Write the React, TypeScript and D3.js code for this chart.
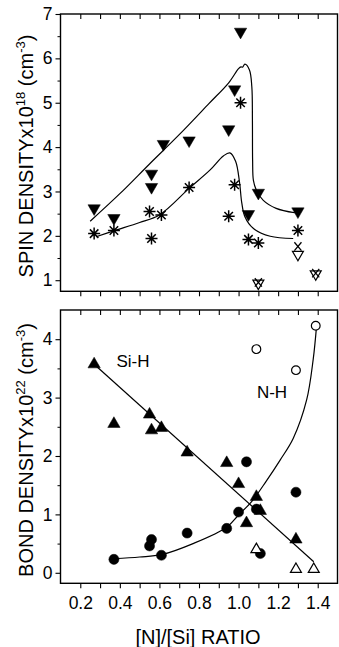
import React, { useEffect, useRef } from 'react';
import * as d3 from 'd3';

// x axis: [N]/[Si] ratio
const xTickValues = [0.2, 0.4, 0.6, 0.8, 1.0, 1.2, 1.4];
const xMinorValues = [0.2, 0.3, 0.4, 0.5, 0.6, 0.7, 0.8, 0.9, 1.0, 1.1, 1.2, 1.3, 1.4];
const spinTickValues = [1, 2, 3, 4, 5, 6, 7];
const spinMinorValues = [1.5, 2.5, 3.5, 4.5, 5.5, 6.5];
const bondTickValues = [0, 1, 2, 3, 4];
const bondMinorValues = [0.5, 1.5, 2.5, 3.5];

// top panel: spin density x10^18
const spinFilledDown = [
  [0.27, 2.62], [0.37, 2.4], [0.56, 3.4], [0.56, 3.1], [0.62, 4.07], [0.75, 4.15],
  [0.95, 4.4], [0.98, 5.3], [1.01, 6.6], [1.05, 2.49], [1.1, 2.97], [1.3, 2.55],
];
const spinStars = [
  [0.27, 2.05], [0.37, 2.12], [0.55, 2.55], [0.56, 1.94], [0.61, 2.47], [0.75, 3.09],
  [0.95, 2.44], [0.98, 3.15], [1.01, 5.0], [1.05, 1.92], [1.1, 1.84], [1.3, 2.12],
];
const spinOpenDown = [[1.1, 0.93], [1.39, 1.14], [1.3, 1.58]];
const spinCrosses = [[1.1, 0.95], [1.39, 1.16], [1.3, 1.76]];
const spinUpperCurve = [
  [0.25, 2.33], [0.4, 2.95], [0.55, 3.62], [0.7, 4.28], [0.85, 4.98], [0.95, 5.45],
  [1.0, 5.77], [1.012, 5.81], [1.02, 5.8], [1.032, 5.87], [1.055, 5.74], [1.067, 5.36],
  [1.07, 4.6], [1.071, 3.7], [1.075, 3.25], [1.09, 3.03], [1.125, 2.8], [1.19, 2.62], [1.285, 2.52],
];
const spinLowerCurve = [
  [0.28, 1.98], [0.375, 2.12], [0.5, 2.3], [0.6, 2.47], [0.75, 3.07], [0.855, 3.48],
  [0.923, 3.8], [0.956, 3.87], [0.985, 3.68], [1.005, 3.2], [1.016, 2.75], [1.032, 2.43],
  [1.074, 2.17], [1.16, 1.99], [1.276, 1.94],
];

// bottom panel: bond density x10^22
const siHFilled = [
  [0.27, 3.57], [0.37, 2.55], [0.55, 2.71], [0.56, 2.44], [0.61, 2.48], [0.74, 2.06],
  [0.94, 1.88], [1.0, 1.52], [1.04, 0.85], [1.09, 1.3], [1.11, 1.06], [1.29, 0.57],
];
const siHOpen = [[1.09, 0.4], [1.29, 0.06], [1.38, 0.06]];
const nHFilled = [
  [0.37, 0.23], [0.55, 0.46], [0.56, 0.57], [0.61, 0.3], [0.74, 0.68], [0.94, 0.76],
  [1.0, 1.04], [1.04, 1.9], [1.09, 1.09], [1.11, 0.33], [1.29, 1.38],
];
const nHOpen = [[1.09, 3.83], [1.29, 3.47], [1.39, 4.23]];
const siHLine = [[0.27, 3.57], [1.38, 0.19]];
const nHCurve = [
  [0.37, 0.24], [0.5, 0.27], [0.61, 0.31], [0.77, 0.5], [0.94, 0.78], [1.0, 0.99],
  [1.066, 1.22], [1.14, 1.57], [1.21, 1.93], [1.276, 2.3], [1.344, 2.96], [1.377, 3.65], [1.394, 4.22],
];

const font = 'Liberation Sans, Arial, sans-serif';

const App = () => {
  const svgRef = useRef(null);

  useEffect(() => {
    const width = 339;
    const height = 647;
    const svg = d3.select(svgRef.current).attr('width', width).attr('height', height);
    svg.selectAll('*').remove();

    const x = d3.scaleLinear().domain([0.1, 1.5]).range([60.5, 337.5]);
    const yTop = d3.scaleLinear().domain([0.75, 7]).range([291.3, 14]);
    const yBot = d3.scaleLinear().domain([-0.18, 4.5]).range([583.3, 310]);

    const drawFrame = (y, major, minor, xLabels) => {
      const [y0, y1] = y.range();
      const g = svg.append('g');
      g.append('rect')
        .attr('x', x.range()[0]).attr('y', y1)
        .attr('width', x.range()[1] - x.range()[0]).attr('height', y0 - y1)
        .attr('fill', 'none').attr('stroke', '#000').attr('stroke-width', 1.4);

      // x ticks all point down: inward on top edge, outward on bottom edge
      [y1, y0].forEach(pos => {
        const ax = g.append('g').attr('transform', `translate(0,${pos})`)
          .call(d3.axisBottom(x).tickValues(xMinorValues).tickSize(5).tickFormat(() => ''));
        ax.select('.domain').remove();
        ax.selectAll('line').attr('stroke-width', 1.1);
      });
      if (xLabels) {
        const ax = g.append('g').attr('transform', `translate(0,${y0})`)
          .call(d3.axisBottom(x).tickValues(xTickValues).tickSize(5).tickPadding(8)
            .tickFormat(d3.format('.1f')));
        ax.select('.domain').remove();
        ax.selectAll('line').remove();
        ax.selectAll('text').attr('font-family', font).attr('font-size', 17.5).attr('fill', '#000');
      }

      const ay = g.append('g').attr('transform', `translate(${x.range()[0]},0)`)
        .call(d3.axisLeft(y).tickValues(major).tickSize(5).tickPadding(3).tickFormat(d3.format('d')));
      ay.select('.domain').remove();
      ay.selectAll('line').attr('stroke-width', 1.1);
      ay.selectAll('text').attr('font-family', font).attr('font-size', 17.5).attr('fill', '#000');

      const am = g.append('g').attr('transform', `translate(${x.range()[0]},0)`)
        .call(d3.axisLeft(y).tickValues(minor).tickSize(3).tickFormat(() => ''));
      am.select('.domain').remove();
    };

    drawFrame(yTop, spinTickValues, spinMinorValues, false);
    drawFrame(yBot, bondTickValues, bondMinorValues, true);

    const curve = (data, y, c) => {
      svg.append('path')
        .datum(data)
        .attr('fill', 'none').attr('stroke', '#000').attr('stroke-width', 1.2)
        .attr('d', d3.line().x(d => x(d[0])).y(d => y(d[1])).curve(c));
    };
    curve(spinUpperCurve, yTop, d3.curveCatmullRom.alpha(0.5));
    curve(spinLowerCurve, yTop, d3.curveCatmullRom.alpha(0.5));
    curve(siHLine, yBot, d3.curveLinear);
    curve(nHCurve, yBot, d3.curveCatmullRom.alpha(0.5));

    const symbols = (data, y, type, size, filled, rotate = 0) => {
      svg.append('g').selectAll('path')
        .data(data)
        .join('path')
        .attr('transform', d => `translate(${x(d[0])},${y(d[1])}) rotate(${rotate})`)
        .attr('d', d3.symbol().type(type).size(size)())
        .attr('fill', filled ? '#000' : '#fff')
        .attr('stroke', '#000')
        .attr('stroke-width', filled ? 0.5 : 1.2);
    };

    const spokes = (data, y, angles, r, sw) => {
      svg.append('g').selectAll('path')
        .data(data)
        .join('path')
        .attr('d', d => {
          const cx = x(d[0]);
          const cy = y(d[1]);
          return angles.map(a => {
            const dx = r * Math.cos(a * Math.PI / 180);
            const dy = r * Math.sin(a * Math.PI / 180);
            return `M${cx + dx},${cy + dy}L${cx - dx},${cy - dy}`;
          }).join('');
        })
        .attr('stroke', '#000').attr('stroke-width', sw).attr('fill', 'none');
    };

    // top panel markers
    symbols(spinFilledDown, yTop, d3.symbolTriangle, 66, true, 180);
    spokes(spinStars, yTop, [0, 45, 90, 135], 6, 1.5);
    symbols(spinOpenDown, yTop, d3.symbolTriangle, 52, false, 180);
    spokes(spinCrosses, yTop, [50, 130], 5.5, 1.3);

    // bottom panel markers
    symbols(nHFilled, yBot, d3.symbolCircle, 80, true);
    symbols(siHFilled, yBot, d3.symbolTriangle, 66, true);
    symbols(siHOpen, yBot, d3.symbolTriangle, 52, false);
    symbols(nHOpen, yBot, d3.symbolCircle, 60, false);

    // series labels
    svg.append('text').attr('x', 133).attr('y', 367).attr('text-anchor', 'middle')
      .attr('font-family', font).attr('font-size', 17).text('Si-H');
    svg.append('text').attr('x', 272).attr('y', 398).attr('text-anchor', 'middle')
      .attr('font-family', font).attr('font-size', 17).text('N-H');

    // axis titles
    svg.append('text').attr('x', 198).attr('y', 644).attr('text-anchor', 'middle')
      .attr('font-family', font).attr('font-size', 20).text('[N]/[Si] RATIO');

    const yTitle = (cy, main, exp) => {
      const t = svg.append('text')
        .attr('transform', `translate(33,${cy}) rotate(-90)`)
        .attr('text-anchor', 'middle')
        .attr('font-family', font).attr('font-size', 20);
      t.append('tspan').text(main);
      t.append('tspan').attr('dy', -8).attr('font-size', 13).text(exp);
      t.append('tspan').attr('dy', 8).text(' (cm');
      t.append('tspan').attr('dy', -8).attr('font-size', 13).text('-3');
      t.append('tspan').attr('dy', 8).text(')');
    };
    yTitle(156, 'SPIN DENSITYx10', '18');
    yTitle(450, 'BOND DENSITYx10', '22');
  }, []);

  return <svg ref={svgRef} style={{ position: 'absolute', left: 0, top: 0 }} />;
};

export default App;
